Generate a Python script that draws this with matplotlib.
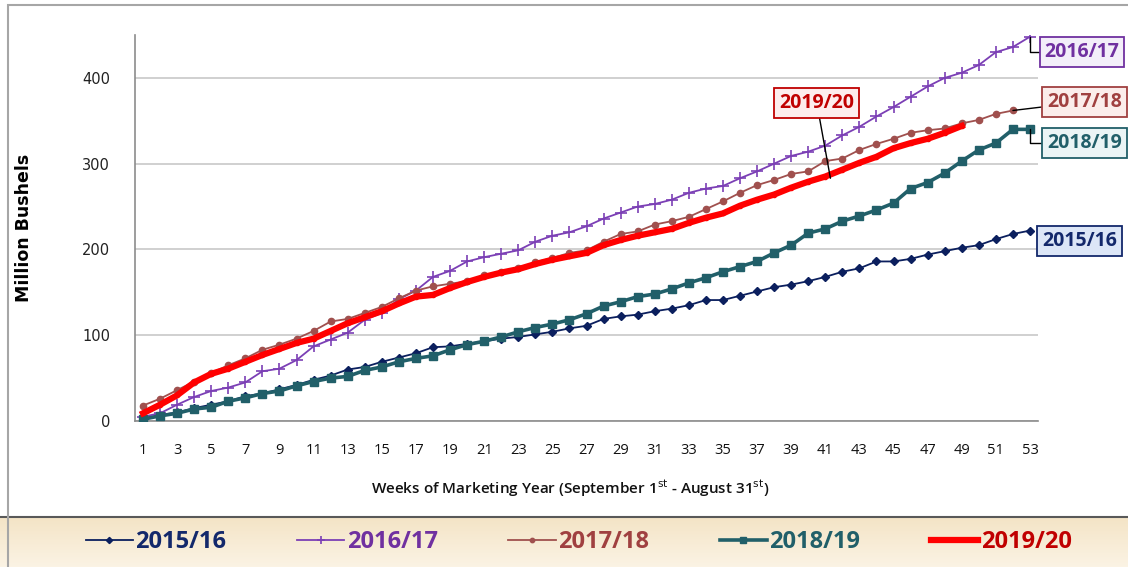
import numpy as np
import matplotlib
matplotlib.use('Agg')
import matplotlib.pyplot as plt
from matplotlib import font_manager
from matplotlib.patches import Rectangle
from matplotlib.lines import Line2D

# weekly cumulative values, million bushels
weeks_full = list(range(1, 54))

y2015 = [3, 7, 10, 15, 19, 23, 29, 32, 37, 42, 48, 53, 60, 63, 69, 74, 79, 86, 87, 90,
         93, 96, 98, 101, 104, 108, 111, 119, 122, 124, 128, 131, 135, 141, 141, 146, 151, 156, 159, 163,
         168, 174, 178, 186, 186, 189, 194, 198, 202, 205, 212, 218, 222]
y2016 = [5, 9, 19, 28, 35, 39, 45, 58, 61, 71, 87, 95, 103, 118, 126, 142, 152, 168, 175, 186,
         191, 195, 199, 209, 216, 220, 227, 236, 243, 250, 253, 258, 266, 271, 274, 283, 291, 300, 309, 314,
         321, 333, 343, 355, 366, 378, 390, 400, 406, 415, 430, 436, 448]
y2017 = [18, 26, 36, 46, 56, 65, 73, 83, 89, 96, 105, 116, 119, 126, 133, 143, 152, 157, 160, 163,
         170, 174, 178, 185, 190, 196, 199, 209, 218, 221, 229, 233, 238, 247, 256, 266, 275, 281, 288, 291,
         303, 306, 316, 323, 329, 336, 339, 341, 347, 351, 358, 362]
y2018 = [2, 6, 9, 14, 16, 23, 27, 32, 35, 41, 46, 50, 52, 59, 63, 69, 73, 76, 83, 89,
         93, 98, 104, 109, 113, 118, 125, 134, 139, 145, 148, 154, 161, 167, 174, 180, 186, 196, 205, 219,
         224, 233, 239, 246, 254, 271, 278, 289, 303, 316, 324, 340, 340]
y2019 = [9, 19, 30, 45, 55, 61, 69, 77, 84, 91, 96, 105, 114, 121, 128, 137, 145, 147, 155, 162,
         168, 173, 177, 183, 188, 192, 196, 205, 211, 216, 220, 224, 231, 237, 242, 251, 258, 264, 272, 279,
         285, 293, 301, 308, 318, 324, 329, 336, 344]

names = ['2015/16', '2016/17', '2017/18', '2018/19', '2019/20']
colors = ['#0B1F5E', '#7B3FB5', '#A0504E', '#215F69', '#FF0000']
text_colors = ['#13286B', '#7030A0', '#A04040', '#215F69', '#C00000']
fills = ['#DCE6F7', '#F3EEF9', '#FBEDEB', '#EAF4F5', '#FDEDED']


def pick(*fams):
    have = {f.name for f in font_manager.fontManager.ttflist}
    for f in fams:
        if f in have:
            return f
    return 'DejaVu Sans'


narrow = pick('Liberation Sans Narrow', 'Open Sans', 'Lato')

fig = plt.figure(figsize=(11.28, 5.67), dpi=100)
W, H = 1128, 567
ax = fig.add_axes([135 / W, 1 - 421 / H, 903 / W, 386 / H])

series = [y2015, y2016, y2017, y2018, y2019]
styles = [
    dict(marker='D', ms=4.5, lw=1.3),
    dict(marker='+', ms=8, lw=1.3, mew=1.2),
    dict(marker='o', ms=4.5, lw=1.3),
    dict(marker='s', ms=6, lw=2.6),
    dict(marker='o', ms=3, lw=4.5),
]
for vals, c, st, nm in zip(series, colors, styles, names):
    wk = weeks_full[:len(vals)]
    ax.plot(wk, vals, color=c, mfc=c, mec=c, label=nm, zorder=3 if nm != '2019/20' else 4, **st)

ax.set_xlim(0.53, 53.47)
ax.set_ylim(0, 450)
ax.set_yticks([0, 100, 200, 300, 400])
ax.set_xticks(weeks_full[::2])
ax.grid(axis='y', color='#C8C8C8', lw=1.2)
ax.set_axisbelow(True)
for s in ['top', 'right']:
    ax.spines[s].set_visible(False)
for s in ['left', 'bottom']:
    ax.spines[s].set_color('#8C8C8C')
    ax.spines[s].set_linewidth(1.2)
ax.tick_params(axis='both', length=0)
ax.tick_params(axis='y', pad=18, labelsize=10.5, colors='#222222')
ax.tick_params(axis='x', pad=16, labelsize=10.5, colors='#111111')
for t in ax.get_xticklabels():
    t.set_fontfamily(narrow)

ax.set_ylabel('Million Bushels', fontsize=12.5, fontweight='bold', color='black')
ax.yaxis.set_label_coords(-0.113, 0.5)
ax.set_xlabel(r'Weeks of Marketing Year (September 1$^{\mathrm{st}}$ - August 31$^{\mathrm{st}}$)',
              fontsize=11, family=narrow, fontweight='semibold', color='#111111')
ax.xaxis.set_label_coords(0.482, -0.145)

# data labels at the ends of lines
label_pos = {
    '2015/16': (55.9, 210),
    '2016/17': (56.05, 430),
    '2017/18': (56.2, 372),
    '2018/19': (56.2, 324),
    '2019/20': (40.5, 371),
}
conn = {
    '2015/16': None,
    '2016/17': 'angle,angleA=0,angleB=90,rad=0',
    '2017/18': 'arc3',
    '2018/19': 'angle,angleA=0,angleB=90,rad=0',
    '2019/20': 'arc3',
}
anchor = {'2015/16': 53, '2016/17': 53, '2017/18': 52, '2018/19': 53, '2019/20': 41.3}
for vals, nm, tc, fc in zip(series, names, text_colors, fills):
    ax_x = anchor[nm]
    if nm == '2019/20':
        ax_y = 283
    else:
        ax_y = vals[int(ax_x) - 1]
    ap = None
    if conn[nm]:
        ap = dict(arrowstyle='-', color='black', lw=1, connectionstyle=conn[nm], shrinkA=0, shrinkB=0)
    ax.annotate(nm, xy=(ax_x, ax_y), xytext=label_pos[nm], textcoords='data',
                ha='center', va='center', fontsize=14, fontweight='bold', family=narrow, color=tc,
                bbox=dict(boxstyle='square,pad=0.25', fc=fc, ec=tc, lw=1.3),
                arrowprops=ap, annotation_clip=False, zorder=6)

# outer chart frame
fig.patches.append(Rectangle((8 / W, -0.1), 1.2, 1.1 - 5 / H, transform=fig.transFigure,
                             fill=False, ec='#A6A6A6', lw=1.5, zorder=0))

# legend strip with beige gradient
lax = fig.add_axes([0, 0, 1, 50 / H])
grad = np.linspace(0, 1, 50).reshape(-1, 1)
cmap = matplotlib.colors.LinearSegmentedColormap.from_list('beige', ['#FBF3E4', '#F4E4C6'])
lax.imshow(grad, aspect='auto', cmap=cmap, extent=[0, 1, 0, 1], origin='lower')
lax.set_xlim(0, 1)
lax.set_ylim(0, 1)
lax.set_xticks([])
lax.set_yticks([])
for s in ['left', 'right', 'bottom']:
    lax.spines[s].set_visible(False)
lax.spines['top'].set_color('#595959')
lax.spines['top'].set_linewidth(1.5)

handles = []
for c, st, nm in zip(colors, styles, names):
    st2 = dict(st)
    st2['ms'] = st['ms'] * 0.7
    handles.append(Line2D([], [], color=c, mfc=c, mec=c, **st2))
leg = lax.legend(handles, names, loc='center', bbox_to_anchor=(0.513, 0.5), ncol=5, frameon=False,
                 handlelength=2.0, handletextpad=0.1, columnspacing=3.0,
                 prop=dict(family=narrow, weight='bold', size=17))
for t, c in zip(leg.get_texts(), text_colors):
    t.set_color(c)

fig.savefig('out.png', dpi=100)
